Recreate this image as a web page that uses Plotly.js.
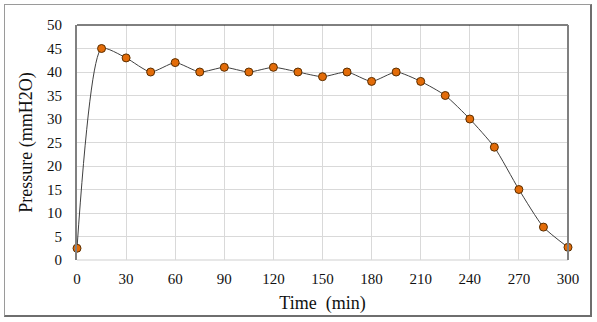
<!DOCTYPE html>
<html><head><meta charset="utf-8">
<script src="https://cdn.plot.ly/plotly-3.0.1.min.js"></script>
<style>
html,body{margin:0;padding:0;background:#fff;}
#wrap{position:relative;width:597px;height:322px;}
#chart{position:absolute;left:0;top:0;width:597px;height:322px;}
#frame{position:absolute;left:4px;top:4px;width:585px;height:310px;border:1px solid #9a9a9a;border-right:2px solid #6e6e6e;border-bottom:2px solid #6e6e6e;pointer-events:none;}
</style></head>
<body>
<div id="wrap"><div id="chart"></div><div id="frame"></div></div>
<script>
const timeMin = [0,15,30,45,60,75,90,105,120,135,150,165,180,195,210,225,240,255,270,285,300];
const pressure = [2.5,45,43,40,42,40,41,40,41,40,39,40,38,40,38,35,30,24,15,7,2.7];
const xTicks = [0,30,60,90,120,150,180,210,240,270,300];
const yTicks = [0,5,10,15,20,25,30,35,40,45,50];

const trace = {
  x: timeMin, y: pressure, type: 'scatter', mode: 'lines+markers',
  line: {shape: 'spline', smoothing: 0.6, color: '#404040', width: 1},
  marker: {size: 8, color: '#E36C09', line: {color: '#5a2e00', width: 1}},
  cliponaxis: false, hoverinfo: 'none'
};
const fam = 'Liberation Serif, Times New Roman, serif';
const fnt = {family: fam, size: 15, color: '#111'};
const layout = {
  width: 597, height: 322,
  margin: {l: 77, r: 29, t: 25, b: 62},
  paper_bgcolor: '#fff', plot_bgcolor: '#fff',
  showlegend: false,
  font: fnt,
  xaxis: {
    range: [0, 300], tickvals: xTicks, ticktext: xTicks.map(String),
    showgrid: true, gridcolor: '#d9d9d9', gridwidth: 1, zeroline: false,
    showline: false, ticks: '', ticklabelstandoff: 8,
    tickfont: fnt,
    title: {text: 'Time  (min)', font: {family: fam, size: 18, color: '#111'}, standoff: 10}
  },
  yaxis: {
    range: [0, 50], tickvals: yTicks, ticktext: yTicks.map(String),
    showgrid: true, gridcolor: '#d9d9d9', gridwidth: 1, zeroline: false,
    showline: true, linecolor: '#808080', linewidth: 2, ticks: '', ticklabelstandoff: 10,
    tickfont: fnt,
    title: {text: 'Pressure (mmH2O)', font: {family: fam, size: 18, color: '#111'}, standoff: 10}
  },
  shapes: [
    {type: 'line', xref: 'paper', yref: 'paper', x0: 0, x1: 1, y0: 1, y1: 1, line: {color: '#000', width: 1}},
    {type: 'line', xref: 'paper', yref: 'paper', x0: 1, x1: 1, y0: 0, y1: 1, line: {color: '#808080', width: 2}},
    {type: 'line', xref: 'paper', yref: 'paper', x0: 0, x1: 1, y0: 0, y1: 0, line: {color: '#cfcfcf', width: 1}, layer: 'below'}
  ]
};
Plotly.newPlot('chart', [trace], layout, {displayModeBar: false, staticPlot: true});
</script>
</body></html>
